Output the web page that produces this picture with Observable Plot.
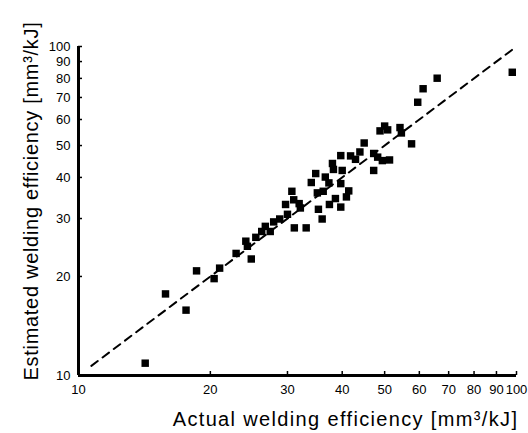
<!DOCTYPE html>
<html>
<head>
<meta charset="utf-8">
<script src="https://cdn.jsdelivr.net/npm/d3@7"></script>
<script src="https://cdn.jsdelivr.net/npm/@observablehq/plot@0.6"></script>
<style>
  html, body { margin: 0; padding: 0; background: #fff; }
  #chart svg { display: block; }
</style>
</head>
<body>
<div id="chart"></div>
<script>
// Actual welding efficiency [mm³/kJ]
const actual = [
  14.2, 15.8, 17.6, 18.6, 20.4, 21.0, 22.9, 24.1, 24.3, 24.8,
  25.4, 26.2, 26.7, 27.4, 27.9, 28.8, 30.0, 29.7, 30.7, 31.0,
  31.9, 32.1, 31.1, 33.1, 34.0, 34.8, 35.1, 36.2, 36.6, 37.3,
  37.4, 35.3, 36.0, 38.0, 38.2, 40.0, 39.7, 38.6, 39.7, 39.7,
  40.9, 41.4, 41.8, 42.9, 43.9, 44.9, 47.2, 47.2, 48.2, 49.4,
  51.3, 48.8, 50.0, 50.8, 54.2, 54.6, 57.6, 59.5, 61.2, 65.9,
  97.8
];
// Estimated welding efficiency [mm³/kJ]
const estimated = [
  10.9, 17.7, 15.8, 20.8, 19.7, 21.2, 23.5, 25.6, 24.7, 22.6,
  26.3, 27.4, 28.4, 27.4, 29.3, 29.9, 30.9, 33.1, 36.3, 34.2,
  33.3, 32.3, 28.1, 28.1, 38.6, 41.1, 35.9, 36.3, 40.1, 38.5,
  33.1, 32.0, 29.9, 44.1, 42.3, 42.0, 46.6, 34.5, 38.3, 32.5,
  34.9, 36.4, 46.5, 45.4, 47.8, 50.9, 42.0, 47.3, 46.1, 45.0,
  45.2, 55.4, 57.3, 55.8, 56.7, 54.6, 50.6, 67.7, 74.4, 80.1,
  83.5
];
const tickValues = [10, 20, 30, 40, 50, 60, 70, 80, 90, 100];
const refLine = [10.7, 100];
const xLabel = "Actual welding efficiency [mm³/kJ]";
const yLabel = "Estimated welding efficiency [mm³/kJ]";

const points = actual.map((a, i) => ({actual: a, estimated: estimated[i]}));
const ref = refLine.map(v => ({x: v, y: v}));

const chart = Plot.plot({
  width: 528,
  height: 433,
  marginLeft: 78,
  marginRight: 12,
  marginTop: 46,
  marginBottom: 58,
  style: {fontFamily: "'Liberation Sans', Arial, sans-serif", fontSize: "13px", color: "#000", background: "#fff"},
  x: {type: "log", domain: [10, 100]},
  y: {type: "log", domain: [10, 100]},
  marks: [
    Plot.axisX({ticks: tickValues, tickFormat: d => String(d), tickSize: -4, tickPadding: 13, label: null, stroke: "#000", strokeWidth: 1.5}),
    Plot.axisY({ticks: tickValues, tickFormat: d => String(d), tickSize: -4, tickPadding: 12, label: null, stroke: "#000", strokeWidth: 1.5}),
    Plot.ruleX([10], {stroke: "#000", strokeWidth: 3}),
    Plot.ruleY([10], {stroke: "#000", strokeWidth: 3}),
    Plot.line(ref, {x: "x", y: "y", stroke: "#000", strokeWidth: 2, strokeDasharray: "8,6"}),
    Plot.dot(points, {x: "actual", y: "estimated", symbol: "square", r: 4.2, fill: "#000", stroke: "none"}),
    Plot.text([xLabel], {frameAnchor: "bottom", textAnchor: "middle", lineAnchor: "middle", dx: 48, dy: 44, fontSize: 20, fill: "#000"}),
    Plot.text([yLabel], {frameAnchor: "left", textAnchor: "middle", lineAnchor: "middle", rotate: -90, dx: -47, dy: -10, fontSize: 20, fill: "#000"})
  ]
});
d3.select(chart).selectAll("text").each(function () {
  const t = this.textContent;
  if (t === xLabel) d3.select(this).attr("letter-spacing", "1.35px");
  if (t === yLabel) d3.select(this).attr("letter-spacing", "0.7px");
});
document.getElementById("chart").appendChild(chart);
</script>
</body>
</html>
